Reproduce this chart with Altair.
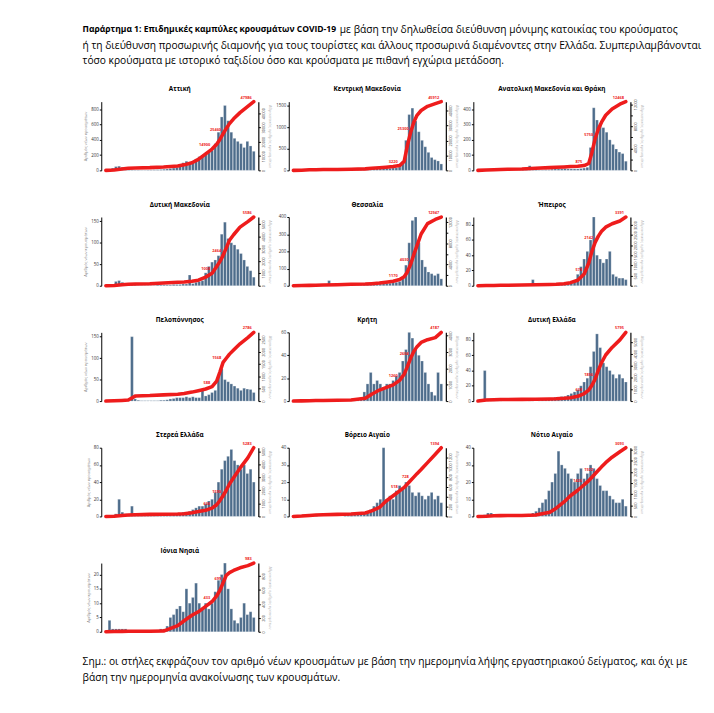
import altair as alt
import pandas as pd

FONT = "Open Sans"
BAR_COLOR = "#4d6c8b"
RED = "#ee1c1c"

# weekly bars (typical daily new cases), weeks starting 2020-02-24
WEEK0 = "2020-02-24"
N_WEEKS = 47

# cumulative line read at these dates
cum_dates = ["2020-02-26", "2020-03-15", "2020-04-01", "2020-04-15", "2020-05-01", "2020-06-01",
             "2020-07-01", "2020-08-01", "2020-08-15", "2020-09-01", "2020-09-15", "2020-10-01",
             "2020-10-15", "2020-10-25", "2020-11-01", "2020-11-08", "2020-11-15", "2020-11-22",
             "2020-12-01", "2020-12-15", "2021-01-01", "2021-01-14"]
label_dates = ["2020-10-15", "2020-11-08", "2021-01-14"]

regions = ["Αττική", "Κεντρική Μακεδονία", "Ανατολική Μακεδονία και Θράκη",
           "Δυτική Μακεδονία", "Θεσσαλία", "Ήπειρος",
           "Πελοπόννησος", "Κρήτη", "Δυτική Ελλάδα",
           "Στερεά Ελλάδα", "Βόρειο Αιγαίο", "Νότιο Αιγαίο",
           "Ιόνια Νησιά"]

attiki_bars = [0, 5, 30, 50, 55, 40, 20, 10, 8, 5,
               5, 4, 4, 5, 6, 8, 10, 12, 15, 18,
               25, 30, 40, 70, 100, 120, 110, 100, 150, 180,
               200, 220, 230, 260, 350, 500, 700, 850, 650, 500,
               420, 380, 350, 300, 380, 320, 250]
attiki_cum = [0, 230, 950, 1450, 1690, 1930, 2410, 3130, 3850, 5290, 7700, 11540,
              14900, 18250, 21630, 25460, 29300, 32660, 36020, 40330, 44660, 47986]

kmak_bars = [0, 1, 5, 10, 12, 10, 8, 5, 3, 2,
             1, 1, 1, 1, 1, 2, 3, 3, 5, 5,
             8, 10, 15, 30, 50, 60, 70, 60, 55, 50,
             50, 55, 60, 80, 200, 700, 1300, 1450, 1150, 900,
             700, 550, 420, 300, 250, 220, 150]
kmak_cum = [0, 140, 370, 460, 550, 640, 740, 1010, 1380, 1750, 2070, 2530,
            3220, 5980, 16560, 25300, 32200, 36800, 40020, 42780, 44560, 45912]

amth_bars = [0, 0, 1, 2, 2, 1, 1, 1, 0, 0,
             0, 0, 1, 1, 2, 3, 30, 5, 3, 3,
             3, 5, 5, 8, 10, 10, 10, 12, 10, 10,
             10, 10, 12, 15, 20, 150, 410, 330, 300, 280,
             250, 200, 170, 140, 120, 110, 60]
amth_cum = [0, 63, 125, 163, 200, 250, 375, 500, 563, 625, 688, 750,
            875, 1250, 3250, 5750, 7500, 8750, 10000, 11125, 12000, 12468]

dmak_bars = [0, 0, 3, 10, 12, 8, 5, 3, 2, 2,
             1, 1, 1, 1, 1, 1, 2, 2, 2, 2,
             2, 3, 3, 3, 4, 4, 25, 5, 8, 10,
             12, 30, 45, 55, 60, 70, 120, 148, 110, 100,
             95, 85, 75, 60, 45, 35, 20]
dmak_cum = [0, 17, 84, 112, 140, 168, 224, 280, 308, 364, 448, 700,
            1008, 1568, 1960, 2464, 3080, 3696, 4144, 4760, 5208, 5586]

thes_bars = [0, 0, 1, 3, 3, 2, 2, 8, 3, 2,
             2, 30, 3, 2, 2, 2, 2, 2, 3, 3,
             3, 4, 5, 8, 10, 12, 10, 10, 12, 15,
             15, 18, 20, 25, 40, 120, 250, 380, 400, 250,
             150, 110, 80, 70, 60, 70, 40]
thes_cum = [0, 26, 65, 104, 130, 195, 260, 325, 390, 494, 650, 845,
            1170, 1690, 2600, 4030, 5850, 7540, 9750, 11700, 12480, 12947]

ipir_bars = [0, 0, 0, 0, 1, 1, 1, 0, 0, 0,
             0, 0, 0, 0, 0, 1, 2, 8, 1, 1,
             1, 1, 2, 2, 2, 3, 3, 3, 4, 5,
             6, 15, 25, 35, 45, 60, 90, 40, 35, 30,
             35, 45, 15, 12, 10, 10, 8]
ipir_cum = [0, 7, 14, 20, 27, 34, 44, 61, 68, 102, 153, 272,
            578, 1122, 1700, 2142, 2448, 2686, 2890, 3060, 3196, 3391]

pel_bars = [0, 0, 1, 1, 2, 2, 2, 2, 150, 5,
            2, 1, 1, 1, 1, 1, 1, 2, 2, 3,
            5, 6, 8, 8, 8, 10, 8, 10, 8, 8,
            25, 12, 15, 20, 25, 60, 75, 50, 45, 40,
            35, 30, 25, 30, 28, 27, 20]
pel_cum = [0, 14, 28, 42, 210, 224, 252, 280, 308, 364, 420, 490,
           588, 812, 1176, 1568, 1736, 1904, 2072, 2324, 2576, 2786]

krit_bars = [0, 0, 0, 1, 1, 1, 0, 0, 0, 0,
             0, 0, 0, 0, 0, 0, 0, 0, 1, 1,
             2, 3, 8, 15, 25, 15, 18, 15, 12, 15,
             15, 18, 22, 25, 35, 45, 60, 55, 45, 40,
             35, 25, 15, 8, 5, 25, 15]
krit_cum = [0, 13, 25, 34, 42, 50, 63, 168, 420, 672, 819, 987,
            1260, 1638, 2100, 2604, 3024, 3318, 3570, 3738, 3864, 4187]

dell_bars = [0, 0, 40, 3, 3, 2, 1, 1, 0, 0,
             0, 0, 0, 0, 0, 1, 1, 1, 1, 1,
             2, 2, 3, 4, 5, 5, 6, 6, 8, 10,
             12, 15, 20, 25, 30, 45, 65, 88, 70, 50,
             45, 40, 35, 30, 35, 30, 25]
dell_cum = [0, 87, 116, 128, 139, 145, 157, 174, 191, 232, 290, 406,
            638, 928, 1334, 1856, 2610, 3248, 3886, 4524, 5162, 5795]

ster_bars = [0, 0, 1, 3, 20, 5, 3, 2, 12, 4,
             3, 2, 1, 1, 1, 1, 1, 1, 2, 2,
             2, 3, 3, 4, 5, 5, 6, 8, 10, 12,
             12, 15, 18, 20, 28, 40, 55, 65, 70, 78,
             65, 60, 55, 60, 50, 55, 40]
ster_cum = [0, 11, 80, 106, 133, 159, 170, 186, 212, 292, 371, 477,
            636, 901, 1219, 1590, 2014, 2491, 2968, 3710, 4505, 5283]

vaig_bars = [0, 0, 0, 1, 1, 1, 1, 1, 0, 0,
             0, 0, 0, 0, 0, 0, 1, 1, 1, 1,
             1, 2, 2, 3, 4, 6, 8, 10, 40, 10,
             12, 10, 15, 18, 16, 20, 18, 14, 12, 14,
             12, 10, 12, 14, 10, 12, 8]
vaig_cum = [0, 7, 21, 28, 35, 42, 49, 70, 112, 182, 308, 420,
            518, 588, 658, 728, 798, 868, 952, 1092, 1260, 1394]

naig_bars = [0, 0, 1, 2, 2, 1, 1, 0, 0, 0,
             0, 0, 0, 0, 0, 1, 1, 2, 3, 5,
             8, 10, 15, 20, 25, 38, 30, 28, 25, 22,
             20, 25, 28, 22, 25, 30, 28, 22, 18, 15,
             15, 12, 10, 8, 8, 10, 6]
naig_cum = [0, 9, 31, 37, 40, 43, 62, 186, 372, 651, 930, 1178,
            1426, 1612, 1767, 1922, 2077, 2232, 2418, 2666, 2914, 3093]

ion_bars = [0, 4, 1, 1, 1, 1, 1, 0, 0, 0,
            0, 0, 0, 0, 0, 0, 0, 1, 1, 2,
            5, 6, 8, 9, 7, 15, 10, 12, 17, 10,
            8, 10, 8, 10, 14, 18, 20, 24, 15, 8,
            4, 3, 5, 10, 6, 7, 5]
ion_cum = [0, 3, 6, 7, 8, 9, 10, 89, 158, 236, 286, 364,
           433, 512, 591, 699, 808, 847, 877, 916, 946, 983]

all_bars = [attiki_bars, kmak_bars, amth_bars, dmak_bars, thes_bars, ipir_bars,
            pel_bars, krit_bars, dell_bars, ster_bars, vaig_bars, naig_bars, ion_bars]
all_cum = [attiki_cum, kmak_cum, amth_cum, dmak_cum, thes_cum, ipir_cum,
           pel_cum, krit_cum, dell_cum, ster_cum, vaig_cum, naig_cum, ion_cum]

header_bold = "Παράρτημα 1: Επιδημικές καμπύλες κρουσμάτων COVID-19"
header_rest = "με βάση την δηλωθείσα διεύθυνση μόνιμης κατοικίας του κρούσματος"
header_line2 = "ή τη διεύθυνση προσωρινής διαμονής για τους τουρίστες και άλλους προσωρινά διαμένοντες στην Ελλάδα. Συμπεριλαμβάνονται"
header_line3 = "τόσο κρούσματα με ιστορικό ταξιδίου όσο και κρούσματα με πιθανή εγχώρια μετάδοση."
footer_line1 = "Σημ.: οι στήλες εκφράζουν τον αριθμό νέων κρουσμάτων με βάση την ημερομηνία λήψης εργαστηριακού δείγματος, και όχι με"
footer_line2 = "βάση την ημερομηνία ανακοίνωσης των κρουσμάτων."

MONTHS = "['Ιαν','Φεβ','Μαρ','Απρ','Μαΐ','Ιουν','Ιουλ','Αυγ','Σεπ','Οκτ','Νοε','Δεκ'][month(datum.value)]"
X_DOMAIN = [alt.DateTime(year=2020, month=2, date=16), alt.DateTime(year=2021, month=1, date=24)]
X_TICKS = [alt.DateTime(year=2020, month=m, date=1) for m in (3, 5, 7, 9, 11)] + [alt.DateTime(year=2021, month=1, date=1)]

W, H = 160, 70
week_start = pd.date_range(WEEK0, periods=N_WEEKS, freq="7D")


def panel(name, bars, cum, first_col):
    bdf = pd.DataFrame({"start": week_start.strftime("%Y-%m-%d"),
                        "end": (week_start + pd.Timedelta(days=6)).strftime("%Y-%m-%d"),
                        "cases": bars})
    ldf = pd.DataFrame({"date": cum_dates, "cum": cum})
    ldf["label"] = ldf["cum"].astype(str)
    tdf = ldf[ldf["date"].isin(label_dates)]
    xscale = alt.Scale(domain=X_DOMAIN)
    xaxis = alt.Axis(values=X_TICKS, labelExpr=MONTHS, labelFontSize=4.5, labelColor="#333",
                     domainColor="black", domainWidth=1.2, tickColor="black", tickSize=2,
                     labelPadding=1, offset=3, grid=False, title=None)
    laxis_kw = dict(labelFontSize=4.5, labelColor="#333", domainColor="black", domainWidth=1,
                    tickColor="black", tickSize=2, labelPadding=1, grid=False, tickCount=4,
                    format="d", titleFontSize=4, titleColor="#888", titleFontWeight="normal",
                    titlePadding=3)
    if first_col:
        laxis = alt.Axis(title="Αριθμός νέων κρουσμάτων", **laxis_kw)
    else:
        laxis = alt.Axis(title=None, **laxis_kw)
    b = alt.Chart(bdf).mark_bar(color=BAR_COLOR, stroke="white", strokeWidth=0.25).encode(
        x=alt.X("start:T", scale=xscale, axis=xaxis),
        x2="end:T",
        y=alt.Y("cases:Q", axis=laxis),
        y2=alt.datum(0),
    )
    raxis = alt.Axis(orient="right", title="Αθροιστικός αριθμός κρουσμάτων", labelFontSize=4,
                     labelColor="#333", labelAngle=270, labelAlign="center", labelBaseline="top",
                     domainColor="black", domainWidth=1.2, tickColor="black", tickSize=2,
                     labelPadding=1, grid=False, tickCount=5, format="d", titleFontSize=4,
                     titleColor="#bbb", titleFontWeight="normal", titlePadding=2)
    ymax = max(cum)
    yscale = alt.Scale(domain=[0, ymax], nice=False)
    line = alt.Chart(ldf).mark_line(color=RED, strokeWidth=3.6, strokeCap="round",
                                    strokeJoin="round").encode(
        x=alt.X("date:T", scale=xscale, axis=None),
        y=alt.Y("cum:Q", scale=yscale, axis=raxis),
    )
    txt = alt.Chart(tdf).mark_text(color=RED, fontSize=4, fontWeight="bold", dx=-2, dy=-4,
                                   align="right").encode(
        x=alt.X("date:T", scale=xscale, axis=None),
        y=alt.Y("cum:Q", scale=yscale),
        text="label:N",
    )
    return alt.layer(b, alt.layer(line, txt)).resolve_scale(y="independent").properties(
        width=W, height=H,
        title=alt.TitleParams(name, fontSize=6.5, fontWeight="bold", font=FONT, offset=3,
                              anchor="middle", color="black"),
    )


panels = [panel(regions[i], all_bars[i], all_cum[i], i % 3 == 0) for i in range(len(regions))]
grid = alt.concat(*panels, columns=3, spacing={"row": 29.5, "column": 4})


def text_line(s, x, y, bold=False, size=10.4):
    d = pd.DataFrame({"t": [s]})
    return alt.Chart(d).mark_text(align="left", baseline="top", fontSize=size,
                                  fontWeight="bold" if bold else "normal", font=FONT,
                                  color="black").encode(
        x=alt.value(x), y=alt.value(y), text="t:N")


X0 = -19
header = alt.layer(
    text_line(header_bold, X0, 6, bold=True, size=8.7),
    text_line(header_rest, X0 + 262, 6),
    text_line(header_line2, X0, 22),
    text_line(header_line3, X0, 38),
).properties(width=600, height=44)

footer = alt.layer(
    text_line(footer_line1, X0, 5),
    text_line(footer_line2, X0, 21),
).properties(width=600, height=34)

chart = alt.vconcat(header, grid, footer, spacing=19).properties(
    padding={"left": 76, "top": 5, "right": 4, "bottom": 4}
).configure(font=FONT).configure_view(stroke=None).configure_axis(labelFont=FONT, titleFont=FONT)

chart.save("out.html", embed_options={"renderer": "svg", "actions": False})
